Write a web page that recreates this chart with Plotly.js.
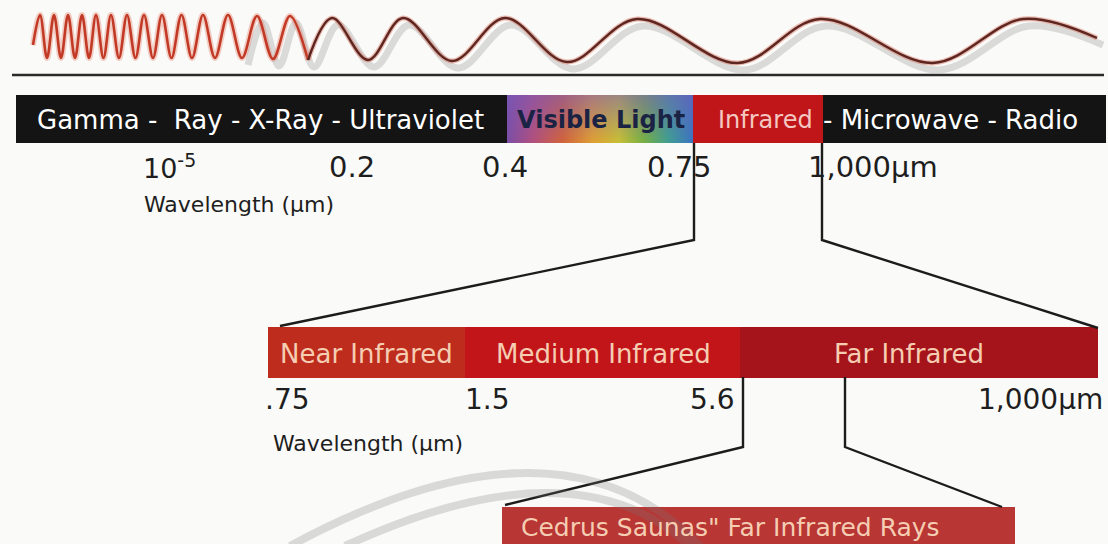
<!DOCTYPE html>
<html>
<head>
<meta charset="utf-8">
<script src="https://cdn.plot.ly/plotly-3.0.1.min.js"></script>
<style>
  html, body { margin: 0; padding: 0; background: #fafaf8; }
  #chart { width: 1108px; height: 544px; }
</style>
</head>
<body>
<div id="chart"></div>
<script>
// ---------------- data ----------------
const spectrumLabels = ['Gamma -\u00a0 Ray - X-Ray - Ultraviolet', 'Visible Light', 'Infrared', '- Microwave - Radio'];
const spectrumTicks = ['10<sup>-5</sup>', '0.2', '0.4', '0.75', '1,000µm'];
const axisTitle = 'Wavelength (µm)';
const irLabels = ['Near Infrared', 'Medium Infrared', 'Far Infrared'];
const irTicks = ['.75', '1.5', '5.6', '1,000µm'];
const detailLabel = 'Cedrus Saunas" Far Infrared Rays';

// wave extrema (pixel units of the drawing)
const waveX = [33, 40, 47, 54, 61, 68, 75, 82, 89, 96, 103.5, 111, 119, 127, 135.5, 144, 153, 162, 171.5, 181.5,
               192, 203, 215, 228, 242, 257, 273, 290, 308, 332, 368, 403, 452, 505, 567, 637, 738, 820, 933, 1023, 1097];
const waveY = [45, 15, 58, 15, 58, 15, 58, 15, 58, 15, 58, 15, 58, 15, 58, 15, 58, 15, 58, 15,
               58, 15, 58, 15, 58, 16, 59, 16, 60, 18, 60, 18, 61, 18, 62, 19, 63, 19, 63, 19, 38];

// ---------------- drawing ----------------
const FONT = 'DejaVu Sans, Liberation Sans, Arial, sans-serif';
const traces = [];
const split = 28;
const shadowFrom = 24;

// wave shadow (visible mostly under the long waves)
traces.push({
  x: waveX.slice(shadowFrom).map(v => v + 6), y: waveY.slice(shadowFrom).map(v => v + 7), mode: 'lines', type: 'scatter',
  line: { color: 'rgba(175,175,175,0.42)', width: 7, shape: 'spline', smoothing: 1 }, hoverinfo: 'skip'
});
// dense (orange-red) part with halo
traces.push({
  x: waveX.slice(0, split + 1), y: waveY.slice(0, split + 1), mode: 'lines', type: 'scatter',
  line: { color: 'rgba(225,120,100,0.35)', width: 6, shape: 'spline', smoothing: 1 }, hoverinfo: 'skip'
});
traces.push({
  x: waveX.slice(0, split + 1), y: waveY.slice(0, split + 1), mode: 'lines', type: 'scatter',
  line: { color: '#c23a26', width: 2.6, shape: 'spline', smoothing: 1 }, hoverinfo: 'skip'
});
// long waves (dark brown-red)
traces.push({
  x: waveX.slice(split), y: waveY.slice(split), mode: 'lines', type: 'scatter',
  line: { color: 'rgba(215,110,90,0.45)', width: 5, shape: 'spline', smoothing: 1 }, hoverinfo: 'skip'
});
traces.push({
  x: waveX.slice(split), y: waveY.slice(split), mode: 'lines', type: 'scatter',
  line: { color: '#5e2620', width: 2.4, shape: 'spline', smoothing: 1 }, hoverinfo: 'skip'
});

// visible light gradient block
traces.push({
  x: [507, 693, 693, 507, 507], y: [95, 95, 143, 143, 95], type: 'scatter', mode: 'lines',
  fill: 'toself', line: { width: 0, color: 'rgba(0,0,0,0)' }, hoverinfo: 'skip',
  fillgradient: { type: 'horizontal', colorscale: [
    [0, '#7a4ea6'], [0.14, '#b24f7c'], [0.3, '#d2633a'], [0.46, '#e0a032'],
    [0.6, '#c9c034'], [0.74, '#74b044'], [0.87, '#3e9e92'], [1, '#3a74c0']] }
});
traces.push({
  x: [507, 693, 693, 507, 507], y: [95, 95, 143, 143, 95], type: 'scatter', mode: 'lines',
  fill: 'toself', line: { width: 0, color: 'rgba(0,0,0,0)' }, hoverinfo: 'skip',
  fillgradient: { type: 'vertical', colorscale: [[0, 'rgba(120,90,190,0)'], [1, 'rgba(120,90,190,0.55)']] }
});

// connector lines
const conn = (xs, ys) => traces.push({ x: xs, y: ys, mode: 'lines', type: 'scatter',
  line: { color: '#1c1c1c', width: 2.4 }, hoverinfo: 'skip' });
conn([694, 694, 280], [143, 240, 326]);
conn([822, 822, 1098], [143, 240, 328]);
conn([743, 743, 505], [377, 447, 505]);
conn([845, 845, 1002], [377, 447, 507]);

const rect = (x0, x1, y0, y1, color) => ({ type: 'rect', xref: 'x', yref: 'y', x0, x1, y0, y1,
  fillcolor: color, line: { width: 0 }, layer: 'below' });

const shapes = [
  { type: 'line', xref: 'x', yref: 'y', x0: 12, x1: 1104, y0: 75, y1: 75, line: { color: '#2a2a2a', width: 2.5 }, layer: 'below' },
  rect(16, 1106, 95, 143, '#141414'),
  rect(693, 823, 95, 143, '#c0161a'),
  rect(268, 465, 327, 378, '#be2c1d'),
  rect(465, 740, 327, 378, '#c2151a'),
  rect(740, 1098, 327, 378, '#a6141b'),
  rect(502, 1015, 507, 560, '#b83634'),
  { type: 'path', xref: 'x', yref: 'y', path: 'M 290 546 Q 560 400 700 546', line: { color: 'rgba(120,120,120,0.25)', width: 8 }, layer: 'above' },
  { type: 'path', xref: 'x', yref: 'y', path: 'M 345 546 Q 575 440 690 546', line: { color: 'rgba(120,120,120,0.25)', width: 8 }, layer: 'above' }
];

const ann = (text, x, y, size, color, xanchor, bold) => ({
  text, x, y, xref: 'x', yref: 'y', xanchor: xanchor || 'center', yanchor: 'middle', showarrow: false,
  font: { family: FONT, size, color, weight: bold ? 'bold' : 'normal' }
});

const annotations = [
  ann(spectrumLabels[0], 35, 120, 26, '#ffffff', 'left'),
  ann(spectrumLabels[1], 601, 120, 24, '#1b2345', 'center', true),
  ann(spectrumLabels[2], 716, 120, 24, '#f4c8c0', 'left'),
  ann(spectrumLabels[3], 821, 120, 26, '#ffffff', 'left'),

  ann(spectrumTicks[0], 141, 166, 27, '#1e1e1e', 'left'),
  ann(spectrumTicks[1], 352, 167, 29, '#1e1e1e'),
  ann(spectrumTicks[2], 505, 167, 29, '#1e1e1e'),
  ann(spectrumTicks[3], 679, 167, 29, '#1e1e1e'),
  ann(spectrumTicks[4], 806, 167, 29, '#1e1e1e', 'left'),
  ann(axisTitle, 142, 204, 22, '#1e1e1e', 'left'),

  ann(irLabels[0], 366, 354, 26, '#f5cdb2'),
  ann(irLabels[1], 603, 354, 26, '#f5cdb2'),
  ann(irLabels[2], 909, 354, 26, '#f5cdb2'),

  ann(irTicks[0], 263, 399, 28, '#1e1e1e', 'left'),
  ann(irTicks[1], 487, 399, 28, '#1e1e1e'),
  ann(irTicks[2], 737, 399, 28, '#1e1e1e', 'right'),
  ann(irTicks[3], 1105, 399, 28, '#1e1e1e', 'right'),
  ann(axisTitle, 271, 443, 22, '#1e1e1e', 'left'),

  ann(detailLabel, 519, 527, 25, '#f5cdb2', 'left')
];

const layout = {
  width: 1108, height: 544,
  margin: { l: 0, r: 0, t: 0, b: 0, pad: 0 },
  paper_bgcolor: '#fafaf8', plot_bgcolor: '#fafaf8',
  showlegend: false,
  xaxis: { range: [0, 1108], visible: false, fixedrange: true },
  yaxis: { range: [544, 0], visible: false, fixedrange: true },
  shapes, annotations
};

Plotly.newPlot('chart', traces, layout, { staticPlot: true, displayModeBar: false });
</script>
</body>
</html>
